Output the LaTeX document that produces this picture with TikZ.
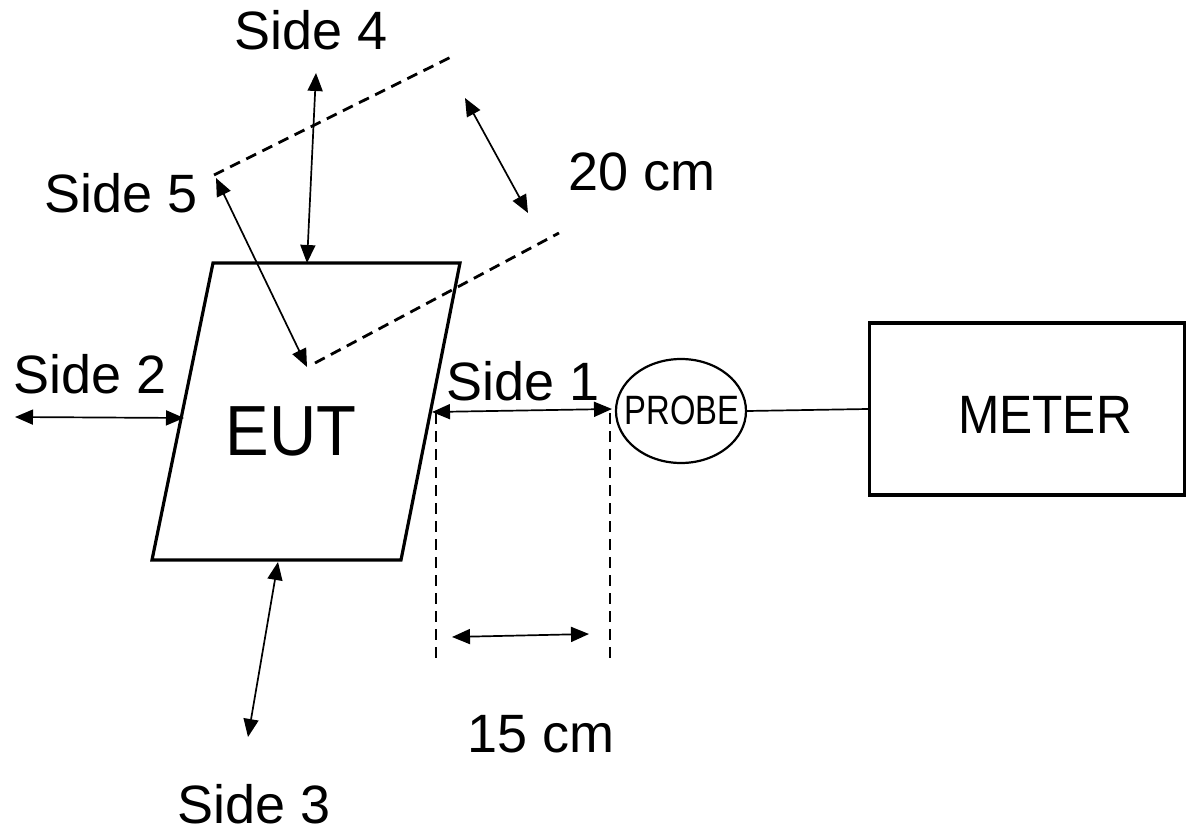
\documentclass[tikz,border=0pt]{standalone}
\usepackage{fontspec}
\setmainfont{Liberation Sans}
\usetikzlibrary{arrows.meta,shapes.geometric}
\begin{document}
\begin{tikzpicture}[x=1pt,y=-1pt,
  lbl/.style={font=\fontsize{54}{60}\selectfont,inner sep=0pt,anchor=base},
  dimarrow/.style={line width=1.7pt,{Triangle[length=18pt,width=15pt]}-{Triangle[length=18pt,width=15pt]}},
  dashline/.style={line width=2.8pt,dash pattern=on 11pt off 7pt},
  solidbox/.style={line width=3.2pt}]
\useasboundingbox (0,0) rectangle (1187,832);
% EUT parallelogram
\coordinate (tl) at (213,263);
\coordinate (tr) at (460,263);
\coordinate (br) at (401,560);
\coordinate (bl) at (152,560);
\draw[solidbox,line join=miter] (tl) -- (tr) -- (br) -- (bl) -- cycle;
\node[lbl,font=\fontsize{71}{80}\selectfont,xscale=0.92] (eut) at (291,455) {EUT};
% probe and meter
\node[draw,ellipse,line width=2.2pt,minimum width=130pt,minimum height=104pt,inner sep=0pt] (probe) at (681,411) {};
\node[lbl,font=\fontsize{41}{44}\selectfont,xscale=0.8] (probetext) at (682,424) {PROBE};
\node[draw,solidbox,rectangle,minimum width=315pt,minimum height=172pt,inner sep=0pt] (meter) at (1027,409) {};
\node[lbl,xscale=0.92] (metertext) at (1045,433) {METER};
\draw[line width=1.7pt] (probe.east) -- (meter.west);
% coordinates of arrow ends
\coordinate (s4a) at (316,73);
\coordinate (s4b) at (307,263);
\coordinate (s5a) at (216,178);
\coordinate (s5b) at (307,367);
\coordinate (d1a) at (214,175);
\coordinate (d1b) at (455,55);
\coordinate (d2a) at (315,363);
\coordinate (d2b) at (559,233);
\coordinate (t20a) at (465,98);
\coordinate (t20b) at (528,213);
\coordinate (s2a) at (15,417);
\coordinate (s2b) at (184,418);
\coordinate (s1a) at (432,412);
\coordinate (s1b) at (612,409);
\coordinate (v1a) at (436,413);
\coordinate (v1b) at (436,663);
\coordinate (v2a) at (610,413);
\coordinate (v2b) at (610,663);
\coordinate (t15a) at (452,637);
\coordinate (t15b) at (589,634);
\coordinate (s3a) at (278,562);
\coordinate (s3b) at (248,737);
% arrows
\draw[dimarrow] (s4a) -- (s4b);
\draw[dimarrow] (s5a) -- (s5b);
\draw[dimarrow] (t20a) -- (t20b);
\draw[dimarrow] (s2a) -- (s2b);
\draw[dimarrow] (s1a) -- (s1b);
\draw[dimarrow] (t15a) -- (t15b);
\draw[dimarrow] (s3a) -- (s3b);
% dashed lines
\draw[dashline] (d1a) -- (d1b);
\draw[dashline] (d2a) -- (d2b);
\draw[dashline] (v1a) -- (v1b);
\draw[dashline] (v2a) -- (v2b);
% labels
\node[lbl] (side4) at (311,50) {Side 4};
\node[lbl] (side5) at (121,212) {Side 5};
\node[lbl] (cm20) at (642,190) {20 cm};
\node[lbl] (side2) at (90,393) {Side 2};
\node[lbl] (side1) at (523,400) {Side 1};
\node[lbl] (cm15) at (541,752) {15 cm};
\node[lbl] (side3) at (254,823) {Side 3};
\end{tikzpicture}
\end{document}
